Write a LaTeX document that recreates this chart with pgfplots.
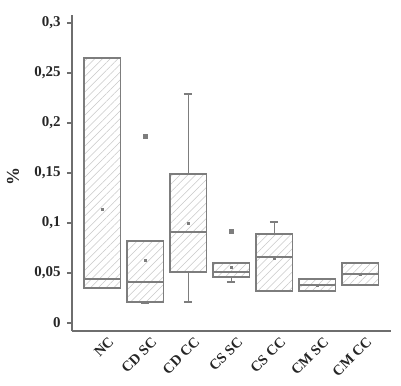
\documentclass[border=0pt]{standalone}
\usepackage{pgfplots}
\pgfplotsset{compat=1.18}
\usepgfplotslibrary{statistics}
\usetikzlibrary{patterns,patterns.meta}
\usepackage{fontspec}
\setmainfont{Liberation Serif}
\definecolor{boxc}{RGB}{125,125,125}
\definecolor{axc}{RGB}{110,110,110}
\definecolor{hatc}{RGB}{200,200,200}
\pgfplotsset{mybox/.style={draw=boxc, line width=1.1pt, solid, mark=none, pattern={Lines[angle=45,distance=5.5pt,line width=0.5pt]}, pattern color=hatc}}
\begin{document}
\begin{tikzpicture}
\begin{axis}[
  scale only axis,
  width=319bp, height=316bp,
  xmin=0.30, xmax=7.72,
  ymin=-0.008, ymax=0.308,
  axis lines*=left,
  axis line style={line width=1.4pt, draw=axc},
  ytick={0,0.05,0.1,0.15,0.2,0.25,0.3},
  yticklabel style={font=\fontsize{15}{17}\selectfont\bfseries, text=black!85, xshift=-3bp,
    /pgf/number format/.cd, fixed, use comma, precision=2, assume math mode=true},
  xtick={1,2,3,4,5,6,7},
  xticklabels={NC,CD SC,CD CC,CS SC,CS CC,CM SC,CM CC},
  xticklabel style={font=\fontsize{14.5}{16}\selectfont\bfseries, text=black!85, rotate=45, anchor=north east, inner sep=0pt, xshift=4bp, yshift=-4bp},
  tick align=outside,
  y tick style={draw=axc, line width=1.2pt},
  x tick style={draw=none},
  major tick length=5bp,
  ylabel={\%},
  ylabel style={font=\fontsize{18}{20}\selectfont\bfseries, text=black!85, at={(axis description cs:-0.155,0.49)}, anchor=south},
  boxplot/draw direction=y,
  boxplot/box extend=0.84,
  boxplot/whisker extend=0.2,
]
\addplot[mybox, boxplot prepared={draw position=1, lower whisker=0.035, lower quartile=0.035, median=0.044, upper quartile=0.265, upper whisker=0.265}] coordinates {};
\addplot[mybox, boxplot prepared={draw position=2, lower whisker=0.020, lower quartile=0.021, median=0.041, upper quartile=0.082, upper whisker=0.082}] coordinates {};
\addplot[mybox, boxplot prepared={draw position=3, lower whisker=0.021, lower quartile=0.051, median=0.091, upper quartile=0.149, upper whisker=0.229}] coordinates {};
\addplot[mybox, boxplot prepared={draw position=4, lower whisker=0.041, lower quartile=0.046, median=0.051, upper quartile=0.060, upper whisker=0.060}] coordinates {};
\addplot[mybox, boxplot prepared={draw position=5, lower whisker=0.032, lower quartile=0.032, median=0.066, upper quartile=0.089, upper whisker=0.101}] coordinates {};
\addplot[mybox, boxplot prepared={draw position=6, lower whisker=0.032, lower quartile=0.032, median=0.038, upper quartile=0.044, upper whisker=0.044}] coordinates {};
\addplot[mybox, boxplot prepared={draw position=7, lower whisker=0.038, lower quartile=0.038, median=0.049, upper quartile=0.060, upper whisker=0.060}] coordinates {};
% means
\addplot[only marks, mark=square*, mark size=1.1pt, color=boxc] coordinates {(1,0.114)(2,0.063)(3,0.100)(4,0.056)(5,0.065)(6,0.038)(7,0.049)};
% outliers
\addplot[only marks, mark=square*, mark size=1.8pt, color=boxc] coordinates {(2,0.187)(4,0.092)};
\end{axis}
\pgfresetboundingbox
\path (current axis.south west) ++(-72bp,-55bp) rectangle ++(401bp,386bp);
\end{tikzpicture}
\end{document}
